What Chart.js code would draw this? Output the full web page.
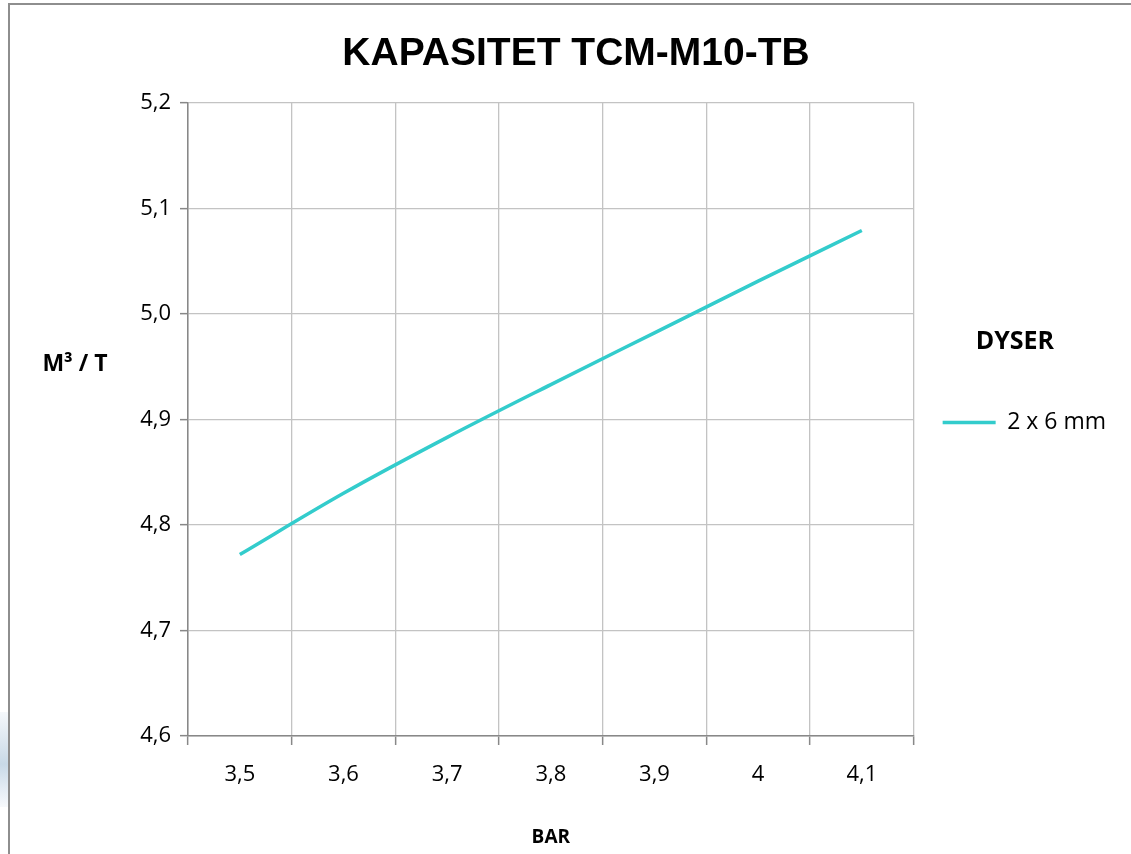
<!DOCTYPE html>
<html>
<head>
<meta charset="utf-8">
<title>KAPASITET TCM-M10-TB</title>
<script src="https://cdn.jsdelivr.net/npm/chart.js@4.4.1/dist/chart.umd.min.js"></script>
<style>
  html, body { margin: 0; padding: 0; background: #fff; overflow: hidden; }
  #wrap { position: absolute; left: 0; top: 0; width: 1131px; height: 854px; }
  #photo { position: absolute; left: 0; top: 712px; width: 9px; height: 95px;
           background: linear-gradient(180deg, #f5f8fb 0%, #dde7f0 30%, #c8d9e7 55%, #e4ecf4 80%, #f7f9fc 100%); }
  #frame { position: absolute; left: 8px; top: 3px; width: 1200px; height: 900px;
           border-left: 2px solid #8e8e8e; border-top: 2px solid #8e8e8e; background: #fff; }
  canvas { position: absolute; left: 0; top: 0; }
</style>
</head>
<body>
<div id="wrap">
  <div id="photo"></div>
  <div id="frame"></div>
  <canvas id="chart" width="1131" height="854"></canvas>
</div>
<script>
// ===== DATA =====
const pressureLabels = ['3,5', '3,6', '3,7', '3,8', '3,9', '4', '4,1'];
const capacity2x6 = [4.772, 4.830, 4.883, 4.933, 4.982, 5.031, 5.079];
const seriesName = '2 x 6 mm';
const chartTitle = 'KAPASITET TCM-M10-TB';
const yTitle = 'M³ / T';
const xTitle = 'BAR';
const legendTitle = 'DYSER';

const TEAL = '#33CCCC';
const GRID = '#c3c3c3';
const AXIS = '#888888';
const TICK_FONT = { family: '"Open Sans", sans-serif', size: 22 };

// horizontal y axis title (Excel style, not rotated)
const yTitlePlugin = {
  id: 'yTitle',
  afterDraw(chart) {
    const ctx = chart.ctx;
    const area = chart.chartArea;
    ctx.save();
    ctx.font = 'bold 23px "Open Sans", sans-serif';
    ctx.fillStyle = '#000';
    ctx.textAlign = 'center';
    ctx.textBaseline = 'middle';
    ctx.fillText(yTitle, area.left - 113, area.top + 262);
    ctx.restore();
  }
};

new Chart(document.getElementById('chart'), {
  type: 'line',
  data: {
    labels: pressureLabels,
    datasets: [{
      label: seriesName,
      data: capacity2x6,
      borderColor: TEAL,
      backgroundColor: TEAL,
      borderWidth: 3.5,
      pointRadius: 0,
      cubicInterpolationMode: 'monotone',
      fill: false
    }]
  },
  options: {
    responsive: false,
    animation: false,
    layout: { padding: { left: 36, right: 15, top: 0, bottom: 0 } },
    plugins: {
      tooltip: { enabled: false },
      title: {
        display: true,
        text: chartTitle,
        color: '#000',
        font: { family: '"Liberation Sans", Arial, sans-serif', size: 39, weight: 'bold' },
        padding: { top: 31, bottom: 25 }
      },
      legend: {
        position: 'right',
        align: 'start',
        title: {
          display: true,
          text: legendTitle,
          color: '#000',
          position: 'center',
          font: { family: '"Open Sans", sans-serif', size: 25, weight: 'bold' },
          padding: { top: 329, bottom: 23 }
        },
        labels: {
          color: '#000',
          font: { family: '"Open Sans", sans-serif', size: 23 },
          usePointStyle: true,
          pointStyle: 'line',
          pointStyleWidth: 53,
          padding: 29
        }
      }
    },
    scales: {
      x: {
        type: 'category',
        offset: true,
        grid: { offset: true, color: GRID, lineWidth: 1.3, tickLength: 9, tickColor: AXIS, tickWidth: 1.5 },
        border: { color: AXIS, width: 1.5 },
        ticks: { color: '#000', font: TICK_FONT, padding: 17, maxRotation: 0 },
        title: {
          display: true,
          text: xTitle,
          color: '#000',
          font: { family: '"Open Sans", sans-serif', size: 19, weight: 'bold' },
          padding: { top: 0, bottom: 5 }
        },
        afterFit(axis) { axis.height = 118; }
      },
      y: {
        min: 4.6,
        max: 5.2,
        grid: { color: GRID, lineWidth: 1.3, tickLength: 8, tickColor: AXIS, tickWidth: 1.5 },
        border: { color: AXIS, width: 1.5 },
        ticks: {
          stepSize: 0.1,
          color: '#000',
          font: TICK_FONT,
          padding: 9,
          callback: v => v.toFixed(1).replace('.', ',')
        },
        afterFit(axis) { axis.width = 152; }
      }
    }
  },
  plugins: [yTitlePlugin]
});
</script>
</body>
</html>
